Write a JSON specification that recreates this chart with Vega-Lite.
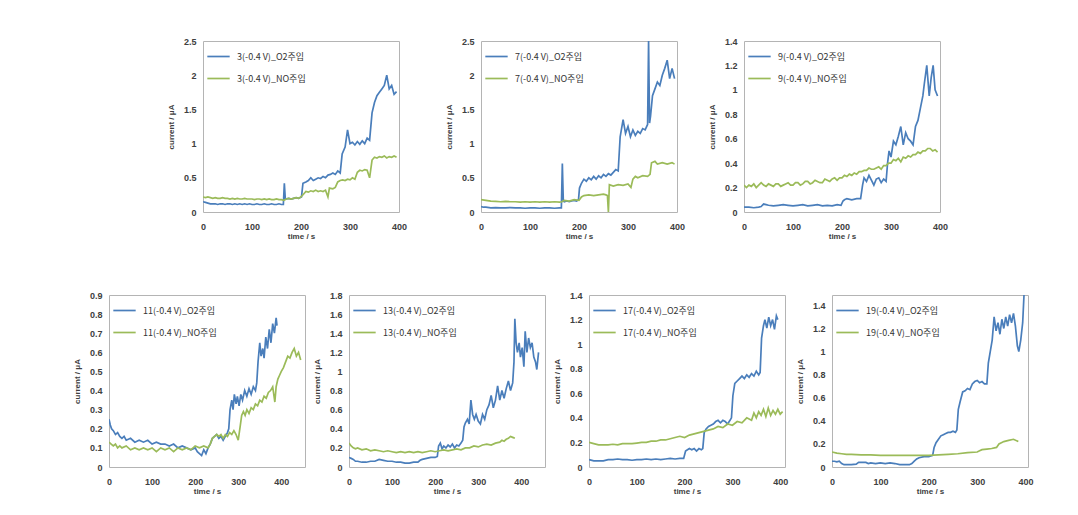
{
"$schema": "https://vega.github.io/schema/vega-lite/v6.json",
"padding": {"left": 72, "top": 36, "right": 5, "bottom": 5},
"background": "white",
"datasets": {
"p3": [
{"t":0,"O2":0.15},{"t":5,"O2":0.14},{"t":10,"O2":0.13},{"t":15,"O2":0.12},{"t":20,"O2":0.12},{"t":25,"O2":0.12},{"t":30,"O2":0.11},{"t":35,"O2":0.12},{"t":40,"O2":0.12},{"t":45,"O2":0.11},{"t":50,"O2":0.12},{"t":55,"O2":0.12},{"t":60,"O2":0.11},{"t":65,"O2":0.12},{"t":70,"O2":0.11},{"t":75,"O2":0.12},{"t":80,"O2":0.11},{"t":85,"O2":0.12},{"t":90,"O2":0.11},{"t":95,"O2":0.12},{"t":100,"O2":0.11},{"t":105,"O2":0.11},{"t":110,"O2":0.12},{"t":115,"O2":0.11},{"t":120,"O2":0.11},{"t":125,"O2":0.12},{"t":130,"O2":0.11},{"t":135,"O2":0.11},{"t":140,"O2":0.12},{"t":145,"O2":0.11},{"t":150,"O2":0.11},{"t":155,"O2":0.12},{"t":160,"O2":0.11},{"t":164,"O2":0.11},{"t":166,"O2":0.42},{"t":168,"O2":0.19},{"t":175,"O2":0.2},{"t":180,"O2":0.19},{"t":185,"O2":0.2},{"t":190,"O2":0.21},{"t":195,"O2":0.2},{"t":201,"O2":0.22},{"t":204,"O2":0.42},{"t":210,"O2":0.44},{"t":215,"O2":0.46},{"t":220,"O2":0.5},{"t":225,"O2":0.46},{"t":230,"O2":0.48},{"t":235,"O2":0.5},{"t":240,"O2":0.49},{"t":245,"O2":0.52},{"t":250,"O2":0.5},{"t":255,"O2":0.54},{"t":260,"O2":0.55},{"t":265,"O2":0.57},{"t":270,"O2":0.55},{"t":275,"O2":0.6},{"t":280,"O2":0.57},{"t":284,"O2":0.85},{"t":290,"O2":0.95},{"t":295,"O2":1.2},{"t":300,"O2":1.0},{"t":305,"O2":1.02},{"t":310,"O2":0.98},{"t":315,"O2":1.03},{"t":320,"O2":0.99},{"t":325,"O2":1.04},{"t":330,"O2":1.0},{"t":335,"O2":1.08},{"t":340,"O2":1.05},{"t":345,"O2":1.45},{"t":350,"O2":1.6},{"t":355,"O2":1.7},{"t":360,"O2":1.75},{"t":365,"O2":1.8},{"t":370,"O2":1.85},{"t":375,"O2":2.0},{"t":380,"O2":1.8},{"t":385,"O2":1.85},{"t":390,"O2":1.72},{"t":395,"O2":1.76},
{"t":0,"NO":0.22},{"t":5,"NO":0.21},{"t":10,"NO":0.22},{"t":15,"NO":0.21},{"t":20,"NO":0.2},{"t":25,"NO":0.21},{"t":30,"NO":0.2},{"t":35,"NO":0.2},{"t":40,"NO":0.21},{"t":45,"NO":0.2},{"t":50,"NO":0.2},{"t":55,"NO":0.19},{"t":60,"NO":0.2},{"t":65,"NO":0.19},{"t":70,"NO":0.2},{"t":75,"NO":0.19},{"t":80,"NO":0.19},{"t":85,"NO":0.2},{"t":90,"NO":0.19},{"t":95,"NO":0.19},{"t":100,"NO":0.19},{"t":105,"NO":0.18},{"t":110,"NO":0.19},{"t":115,"NO":0.19},{"t":120,"NO":0.18},{"t":125,"NO":0.19},{"t":130,"NO":0.18},{"t":135,"NO":0.19},{"t":140,"NO":0.18},{"t":145,"NO":0.18},{"t":150,"NO":0.19},{"t":155,"NO":0.18},{"t":160,"NO":0.18},{"t":165,"NO":0.17},{"t":170,"NO":0.19},{"t":175,"NO":0.2},{"t":180,"NO":0.19},{"t":185,"NO":0.2},{"t":190,"NO":0.21},{"t":195,"NO":0.2},{"t":200,"NO":0.22},{"t":205,"NO":0.26},{"t":210,"NO":0.3},{"t":215,"NO":0.29},{"t":220,"NO":0.31},{"t":225,"NO":0.3},{"t":230,"NO":0.32},{"t":235,"NO":0.3},{"t":240,"NO":0.31},{"t":245,"NO":0.3},{"t":250,"NO":0.32},{"t":255,"NO":0.22},{"t":258,"NO":0.35},{"t":265,"NO":0.34},{"t":270,"NO":0.36},{"t":275,"NO":0.44},{"t":280,"NO":0.46},{"t":285,"NO":0.47},{"t":290,"NO":0.46},{"t":295,"NO":0.48},{"t":300,"NO":0.47},{"t":305,"NO":0.5},{"t":310,"NO":0.48},{"t":315,"NO":0.58},{"t":320,"NO":0.61},{"t":325,"NO":0.6},{"t":330,"NO":0.62},{"t":335,"NO":0.61},{"t":340,"NO":0.5},{"t":345,"NO":0.76},{"t":350,"NO":0.8},{"t":355,"NO":0.79},{"t":360,"NO":0.81},{"t":365,"NO":0.8},{"t":370,"NO":0.82},{"t":375,"NO":0.79},{"t":380,"NO":0.81},{"t":385,"NO":0.8},{"t":390,"NO":0.82},{"t":395,"NO":0.8}
],
"p7": [
{"t":0,"O2":0.08},{"t":5,"O2":0.07},{"t":10,"O2":0.07},{"t":20,"O2":0.06},{"t":30,"O2":0.065},{"t":40,"O2":0.06},{"t":50,"O2":0.06},{"t":60,"O2":0.065},{"t":70,"O2":0.06},{"t":80,"O2":0.06},{"t":90,"O2":0.055},{"t":100,"O2":0.06},{"t":110,"O2":0.06},{"t":120,"O2":0.055},{"t":130,"O2":0.06},{"t":140,"O2":0.06},{"t":150,"O2":0.055},{"t":160,"O2":0.06},{"t":164,"O2":0.06},{"t":166,"O2":0.71},{"t":168,"O2":0.16},{"t":170,"O2":0.15},{"t":175,"O2":0.16},{"t":180,"O2":0.15},{"t":185,"O2":0.16},{"t":190,"O2":0.17},{"t":195,"O2":0.16},{"t":199,"O2":0.18},{"t":201,"O2":0.35},{"t":205,"O2":0.42},{"t":210,"O2":0.48},{"t":215,"O2":0.45},{"t":220,"O2":0.5},{"t":225,"O2":0.47},{"t":230,"O2":0.52},{"t":235,"O2":0.48},{"t":240,"O2":0.53},{"t":245,"O2":0.5},{"t":250,"O2":0.55},{"t":255,"O2":0.52},{"t":260,"O2":0.56},{"t":265,"O2":0.54},{"t":270,"O2":0.58},{"t":275,"O2":0.62},{"t":280,"O2":0.6},{"t":284,"O2":1.1},{"t":290,"O2":1.35},{"t":295,"O2":1.15},{"t":300,"O2":1.25},{"t":305,"O2":1.1},{"t":310,"O2":1.2},{"t":315,"O2":1.12},{"t":320,"O2":1.18},{"t":325,"O2":1.15},{"t":330,"O2":1.22},{"t":335,"O2":1.2},{"t":340,"O2":1.28},{"t":342,"O2":2.5},{"t":344,"O2":1.3},{"t":346,"O2":1.4},{"t":350,"O2":1.7},{"t":355,"O2":1.8},{"t":360,"O2":1.9},{"t":365,"O2":1.85},{"t":370,"O2":2.0},{"t":375,"O2":2.1},{"t":380,"O2":2.22},{"t":385,"O2":1.95},{"t":390,"O2":2.1},{"t":395,"O2":1.95},
{"t":0,"NO":0.18},{"t":10,"NO":0.17},{"t":20,"NO":0.16},{"t":30,"NO":0.155},{"t":40,"NO":0.15},{"t":50,"NO":0.155},{"t":60,"NO":0.15},{"t":70,"NO":0.15},{"t":80,"NO":0.145},{"t":90,"NO":0.15},{"t":100,"NO":0.145},{"t":110,"NO":0.15},{"t":120,"NO":0.145},{"t":130,"NO":0.15},{"t":140,"NO":0.145},{"t":150,"NO":0.15},{"t":160,"NO":0.145},{"t":165,"NO":0.15},{"t":170,"NO":0.17},{"t":180,"NO":0.16},{"t":190,"NO":0.18},{"t":200,"NO":0.17},{"t":205,"NO":0.22},{"t":210,"NO":0.24},{"t":220,"NO":0.25},{"t":230,"NO":0.24},{"t":240,"NO":0.25},{"t":250,"NO":0.26},{"t":255,"NO":0.25},{"t":258,"NO":0.24},{"t":260,"NO":0.0},{"t":262,"NO":0.4},{"t":270,"NO":0.38},{"t":280,"NO":0.4},{"t":290,"NO":0.39},{"t":300,"NO":0.41},{"t":306,"NO":0.36},{"t":310,"NO":0.48},{"t":315,"NO":0.52},{"t":320,"NO":0.5},{"t":330,"NO":0.53},{"t":340,"NO":0.52},{"t":345,"NO":0.55},{"t":348,"NO":0.72},{"t":355,"NO":0.74},{"t":360,"NO":0.7},{"t":370,"NO":0.72},{"t":380,"NO":0.7},{"t":390,"NO":0.72},{"t":395,"NO":0.7}
],
"p9": [
{"t":0,"O2":0.04},{"t":10,"O2":0.04},{"t":20,"O2":0.035},{"t":30,"O2":0.04},{"t":35,"O2":0.045},{"t":40,"O2":0.065},{"t":45,"O2":0.06},{"t":50,"O2":0.055},{"t":60,"O2":0.05},{"t":70,"O2":0.055},{"t":80,"O2":0.06},{"t":90,"O2":0.055},{"t":100,"O2":0.05},{"t":110,"O2":0.055},{"t":120,"O2":0.06},{"t":130,"O2":0.05},{"t":140,"O2":0.055},{"t":150,"O2":0.06},{"t":160,"O2":0.05},{"t":170,"O2":0.055},{"t":180,"O2":0.05},{"t":190,"O2":0.06},{"t":198,"O2":0.055},{"t":202,"O2":0.09},{"t":205,"O2":0.1},{"t":210,"O2":0.11},{"t":220,"O2":0.1},{"t":230,"O2":0.11},{"t":238,"O2":0.11},{"t":242,"O2":0.22},{"t":245,"O2":0.28},{"t":250,"O2":0.25},{"t":255,"O2":0.3},{"t":260,"O2":0.26},{"t":265,"O2":0.22},{"t":270,"O2":0.27},{"t":275,"O2":0.28},{"t":280,"O2":0.24},{"t":285,"O2":0.27},{"t":290,"O2":0.25},{"t":293,"O2":0.4},{"t":296,"O2":0.5},{"t":300,"O2":0.45},{"t":305,"O2":0.58},{"t":310,"O2":0.55},{"t":315,"O2":0.62},{"t":320,"O2":0.7},{"t":325,"O2":0.55},{"t":330,"O2":0.65},{"t":335,"O2":0.6},{"t":340,"O2":0.58},{"t":345,"O2":0.55},{"t":350,"O2":0.7},{"t":355,"O2":0.75},{"t":360,"O2":0.85},{"t":365,"O2":0.95},{"t":368,"O2":1.05},{"t":373,"O2":1.2},{"t":378,"O2":0.95},{"t":382,"O2":1.1},{"t":386,"O2":1.2},{"t":390,"O2":1.0},{"t":395,"O2":0.95},
{"t":0,"NO":0.22},{"t":5,"NO":0.2},{"t":10,"NO":0.22},{"t":15,"NO":0.21},{"t":20,"NO":0.23},{"t":25,"NO":0.2},{"t":30,"NO":0.22},{"t":35,"NO":0.24},{"t":40,"NO":0.22},{"t":45,"NO":0.21},{"t":50,"NO":0.23},{"t":55,"NO":0.22},{"t":60,"NO":0.21},{"t":65,"NO":0.23},{"t":70,"NO":0.23},{"t":75,"NO":0.21},{"t":80,"NO":0.22},{"t":85,"NO":0.23},{"t":90,"NO":0.24},{"t":95,"NO":0.22},{"t":100,"NO":0.22},{"t":105,"NO":0.24},{"t":110,"NO":0.24},{"t":115,"NO":0.22},{"t":120,"NO":0.23},{"t":125,"NO":0.25},{"t":130,"NO":0.25},{"t":135,"NO":0.23},{"t":140,"NO":0.24},{"t":145,"NO":0.26},{"t":150,"NO":0.25},{"t":155,"NO":0.24},{"t":160,"NO":0.24},{"t":165,"NO":0.27},{"t":170,"NO":0.26},{"t":175,"NO":0.25},{"t":180,"NO":0.27},{"t":185,"NO":0.28},{"t":190,"NO":0.26},{"t":195,"NO":0.28},{"t":200,"NO":0.28},{"t":205,"NO":0.3},{"t":210,"NO":0.29},{"t":215,"NO":0.31},{"t":220,"NO":0.3},{"t":225,"NO":0.32},{"t":230,"NO":0.31},{"t":235,"NO":0.33},{"t":240,"NO":0.33},{"t":245,"NO":0.34},{"t":250,"NO":0.34},{"t":255,"NO":0.36},{"t":260,"NO":0.35},{"t":265,"NO":0.35},{"t":270,"NO":0.36},{"t":275,"NO":0.37},{"t":280,"NO":0.35},{"t":285,"NO":0.38},{"t":290,"NO":0.38},{"t":295,"NO":0.4},{"t":300,"NO":0.4},{"t":305,"NO":0.43},{"t":310,"NO":0.42},{"t":315,"NO":0.44},{"t":320,"NO":0.41},{"t":325,"NO":0.45},{"t":330,"NO":0.44},{"t":335,"NO":0.46},{"t":340,"NO":0.45},{"t":345,"NO":0.47},{"t":350,"NO":0.47},{"t":355,"NO":0.49},{"t":360,"NO":0.48},{"t":365,"NO":0.5},{"t":370,"NO":0.5},{"t":375,"NO":0.52},{"t":380,"NO":0.52},{"t":385,"NO":0.5},{"t":390,"NO":0.51},{"t":395,"NO":0.49}
],
"p11": [
{"t":0,"O2":0.25},{"t":3,"O2":0.22},{"t":6,"O2":0.2},{"t":10,"O2":0.19},{"t":15,"O2":0.17},{"t":20,"O2":0.18},{"t":25,"O2":0.16},{"t":30,"O2":0.15},{"t":35,"O2":0.16},{"t":40,"O2":0.14},{"t":50,"O2":0.15},{"t":60,"O2":0.13},{"t":70,"O2":0.14},{"t":80,"O2":0.13},{"t":90,"O2":0.14},{"t":100,"O2":0.12},{"t":110,"O2":0.13},{"t":120,"O2":0.12},{"t":130,"O2":0.12},{"t":140,"O2":0.11},{"t":150,"O2":0.12},{"t":160,"O2":0.1},{"t":170,"O2":0.11},{"t":180,"O2":0.1},{"t":190,"O2":0.09},{"t":200,"O2":0.1},{"t":205,"O2":0.08},{"t":210,"O2":0.07},{"t":215,"O2":0.06},{"t":220,"O2":0.09},{"t":225,"O2":0.07},{"t":230,"O2":0.1},{"t":235,"O2":0.12},{"t":240,"O2":0.15},{"t":245,"O2":0.16},{"t":250,"O2":0.17},{"t":255,"O2":0.15},{"t":260,"O2":0.16},{"t":265,"O2":0.14},{"t":270,"O2":0.16},{"t":275,"O2":0.18},{"t":278,"O2":0.2},{"t":281,"O2":0.3},{"t":285,"O2":0.35},{"t":288,"O2":0.3},{"t":291,"O2":0.38},{"t":295,"O2":0.33},{"t":298,"O2":0.37},{"t":302,"O2":0.32},{"t":306,"O2":0.38},{"t":310,"O2":0.35},{"t":315,"O2":0.4},{"t":320,"O2":0.37},{"t":325,"O2":0.41},{"t":330,"O2":0.38},{"t":335,"O2":0.42},{"t":340,"O2":0.4},{"t":343,"O2":0.44},{"t":346,"O2":0.55},{"t":350,"O2":0.65},{"t":353,"O2":0.58},{"t":357,"O2":0.62},{"t":360,"O2":0.57},{"t":364,"O2":0.68},{"t":368,"O2":0.62},{"t":372,"O2":0.72},{"t":376,"O2":0.65},{"t":380,"O2":0.75},{"t":384,"O2":0.7},{"t":388,"O2":0.78},{"t":390,"O2":0.74},
{"t":0,"NO":0.13},{"t":5,"NO":0.12},{"t":10,"NO":0.11},{"t":15,"NO":0.12},{"t":20,"NO":0.1},{"t":25,"NO":0.11},{"t":30,"NO":0.1},{"t":40,"NO":0.11},{"t":50,"NO":0.09},{"t":60,"NO":0.1},{"t":70,"NO":0.09},{"t":80,"NO":0.1},{"t":90,"NO":0.09},{"t":100,"NO":0.1},{"t":110,"NO":0.08},{"t":120,"NO":0.1},{"t":130,"NO":0.09},{"t":140,"NO":0.1},{"t":150,"NO":0.08},{"t":160,"NO":0.1},{"t":170,"NO":0.09},{"t":180,"NO":0.1},{"t":190,"NO":0.09},{"t":200,"NO":0.11},{"t":210,"NO":0.1},{"t":220,"NO":0.11},{"t":230,"NO":0.1},{"t":235,"NO":0.12},{"t":240,"NO":0.15},{"t":245,"NO":0.16},{"t":250,"NO":0.17},{"t":255,"NO":0.16},{"t":260,"NO":0.17},{"t":265,"NO":0.15},{"t":270,"NO":0.17},{"t":275,"NO":0.16},{"t":280,"NO":0.18},{"t":285,"NO":0.17},{"t":290,"NO":0.19},{"t":295,"NO":0.17},{"t":300,"NO":0.14},{"t":305,"NO":0.22},{"t":308,"NO":0.27},{"t":312,"NO":0.29},{"t":316,"NO":0.27},{"t":320,"NO":0.3},{"t":325,"NO":0.28},{"t":330,"NO":0.31},{"t":335,"NO":0.3},{"t":340,"NO":0.33},{"t":345,"NO":0.32},{"t":350,"NO":0.35},{"t":355,"NO":0.34},{"t":360,"NO":0.37},{"t":365,"NO":0.36},{"t":370,"NO":0.39},{"t":375,"NO":0.4},{"t":380,"NO":0.42},{"t":385,"NO":0.34},{"t":388,"NO":0.42},{"t":392,"NO":0.46},{"t":396,"NO":0.48},{"t":400,"NO":0.5},{"t":405,"NO":0.52},{"t":410,"NO":0.55},{"t":415,"NO":0.58},{"t":420,"NO":0.57},{"t":425,"NO":0.6},{"t":430,"NO":0.62},{"t":435,"NO":0.58},{"t":440,"NO":0.6},{"t":445,"NO":0.56}
],
"p13": [
{"t":0,"O2":0.1},{"t":5,"O2":0.09},{"t":10,"O2":0.08},{"t":15,"O2":0.06},{"t":20,"O2":0.06},{"t":30,"O2":0.05},{"t":40,"O2":0.05},{"t":50,"O2":0.06},{"t":60,"O2":0.06},{"t":70,"O2":0.08},{"t":80,"O2":0.07},{"t":90,"O2":0.06},{"t":100,"O2":0.06},{"t":110,"O2":0.05},{"t":120,"O2":0.05},{"t":130,"O2":0.04},{"t":140,"O2":0.04},{"t":150,"O2":0.05},{"t":160,"O2":0.05},{"t":165,"O2":0.07},{"t":170,"O2":0.08},{"t":180,"O2":0.09},{"t":190,"O2":0.1},{"t":200,"O2":0.1},{"t":205,"O2":0.11},{"t":208,"O2":0.22},{"t":212,"O2":0.25},{"t":216,"O2":0.19},{"t":220,"O2":0.22},{"t":225,"O2":0.2},{"t":230,"O2":0.23},{"t":235,"O2":0.21},{"t":240,"O2":0.24},{"t":245,"O2":0.2},{"t":250,"O2":0.23},{"t":255,"O2":0.22},{"t":260,"O2":0.25},{"t":264,"O2":0.28},{"t":267,"O2":0.42},{"t":270,"O2":0.46},{"t":275,"O2":0.5},{"t":279,"O2":0.45},{"t":283,"O2":0.7},{"t":287,"O2":0.55},{"t":291,"O2":0.5},{"t":295,"O2":0.55},{"t":300,"O2":0.48},{"t":305,"O2":0.45},{"t":310,"O2":0.55},{"t":315,"O2":0.5},{"t":320,"O2":0.6},{"t":325,"O2":0.65},{"t":330,"O2":0.75},{"t":335,"O2":0.62},{"t":340,"O2":0.7},{"t":345,"O2":0.85},{"t":350,"O2":0.7},{"t":355,"O2":0.8},{"t":360,"O2":0.72},{"t":365,"O2":0.82},{"t":370,"O2":0.9},{"t":375,"O2":0.8},{"t":380,"O2":0.88},{"t":383,"O2":1.1},{"t":385,"O2":1.55},{"t":388,"O2":1.3},{"t":391,"O2":1.2},{"t":395,"O2":1.3},{"t":398,"O2":1.15},{"t":402,"O2":1.25},{"t":406,"O2":1.05},{"t":409,"O2":1.42},{"t":413,"O2":1.2},{"t":417,"O2":1.35},{"t":421,"O2":1.25},{"t":425,"O2":1.3},{"t":429,"O2":1.15},{"t":433,"O2":1.1},{"t":436,"O2":1.02},{"t":440,"O2":1.2},
{"t":0,"NO":0.25},{"t":5,"NO":0.22},{"t":10,"NO":0.2},{"t":15,"NO":0.19},{"t":20,"NO":0.2},{"t":30,"NO":0.18},{"t":40,"NO":0.19},{"t":50,"NO":0.17},{"t":60,"NO":0.18},{"t":70,"NO":0.17},{"t":80,"NO":0.16},{"t":90,"NO":0.17},{"t":100,"NO":0.16},{"t":110,"NO":0.15},{"t":120,"NO":0.16},{"t":130,"NO":0.15},{"t":140,"NO":0.16},{"t":150,"NO":0.15},{"t":160,"NO":0.16},{"t":170,"NO":0.15},{"t":180,"NO":0.16},{"t":190,"NO":0.17},{"t":200,"NO":0.16},{"t":210,"NO":0.17},{"t":220,"NO":0.18},{"t":230,"NO":0.17},{"t":240,"NO":0.18},{"t":250,"NO":0.19},{"t":260,"NO":0.18},{"t":270,"NO":0.2},{"t":280,"NO":0.2},{"t":290,"NO":0.22},{"t":300,"NO":0.21},{"t":310,"NO":0.23},{"t":320,"NO":0.24},{"t":330,"NO":0.23},{"t":340,"NO":0.25},{"t":350,"NO":0.26},{"t":355,"NO":0.28},{"t":360,"NO":0.27},{"t":365,"NO":0.29},{"t":370,"NO":0.3},{"t":375,"NO":0.32},{"t":380,"NO":0.31},{"t":385,"NO":0.3}
],
"p17": [
{"t":0,"O2":0.06},{"t":10,"O2":0.05},{"t":20,"O2":0.05},{"t":30,"O2":0.05},{"t":40,"O2":0.06},{"t":50,"O2":0.06},{"t":60,"O2":0.065},{"t":70,"O2":0.06},{"t":80,"O2":0.06},{"t":90,"O2":0.055},{"t":100,"O2":0.06},{"t":110,"O2":0.06},{"t":120,"O2":0.065},{"t":130,"O2":0.06},{"t":140,"O2":0.065},{"t":150,"O2":0.06},{"t":160,"O2":0.065},{"t":170,"O2":0.07},{"t":180,"O2":0.065},{"t":190,"O2":0.07},{"t":198,"O2":0.07},{"t":202,"O2":0.13},{"t":206,"O2":0.14},{"t":210,"O2":0.15},{"t":215,"O2":0.14},{"t":220,"O2":0.15},{"t":225,"O2":0.13},{"t":230,"O2":0.15},{"t":235,"O2":0.14},{"t":238,"O2":0.15},{"t":241,"O2":0.28},{"t":245,"O2":0.31},{"t":250,"O2":0.33},{"t":255,"O2":0.34},{"t":260,"O2":0.35},{"t":265,"O2":0.37},{"t":270,"O2":0.38},{"t":275,"O2":0.36},{"t":280,"O2":0.38},{"t":285,"O2":0.37},{"t":290,"O2":0.35},{"t":295,"O2":0.38},{"t":298,"O2":0.4},{"t":301,"O2":0.58},{"t":305,"O2":0.68},{"t":310,"O2":0.7},{"t":315,"O2":0.72},{"t":320,"O2":0.74},{"t":325,"O2":0.72},{"t":330,"O2":0.75},{"t":335,"O2":0.73},{"t":340,"O2":0.76},{"t":345,"O2":0.74},{"t":350,"O2":0.78},{"t":355,"O2":0.75},{"t":358,"O2":0.77},{"t":361,"O2":1.05},{"t":365,"O2":1.15},{"t":368,"O2":1.2},{"t":372,"O2":1.13},{"t":376,"O2":1.22},{"t":380,"O2":1.15},{"t":384,"O2":1.2},{"t":388,"O2":1.12},{"t":392,"O2":1.23},{"t":395,"O2":1.2},
{"t":0,"NO":0.2},{"t":10,"NO":0.19},{"t":20,"NO":0.18},{"t":30,"NO":0.18},{"t":40,"NO":0.18},{"t":50,"NO":0.185},{"t":60,"NO":0.18},{"t":70,"NO":0.19},{"t":80,"NO":0.19},{"t":90,"NO":0.19},{"t":100,"NO":0.195},{"t":110,"NO":0.2},{"t":120,"NO":0.2},{"t":130,"NO":0.21},{"t":140,"NO":0.21},{"t":150,"NO":0.22},{"t":160,"NO":0.22},{"t":170,"NO":0.23},{"t":180,"NO":0.24},{"t":190,"NO":0.25},{"t":200,"NO":0.24},{"t":210,"NO":0.26},{"t":220,"NO":0.27},{"t":230,"NO":0.28},{"t":240,"NO":0.29},{"t":250,"NO":0.3},{"t":260,"NO":0.31},{"t":270,"NO":0.33},{"t":280,"NO":0.32},{"t":290,"NO":0.35},{"t":300,"NO":0.34},{"t":310,"NO":0.37},{"t":320,"NO":0.36},{"t":330,"NO":0.4},{"t":340,"NO":0.38},{"t":345,"NO":0.44},{"t":350,"NO":0.4},{"t":355,"NO":0.45},{"t":360,"NO":0.42},{"t":365,"NO":0.47},{"t":370,"NO":0.41},{"t":375,"NO":0.48},{"t":380,"NO":0.42},{"t":385,"NO":0.46},{"t":390,"NO":0.43},{"t":395,"NO":0.47},{"t":400,"NO":0.43},{"t":405,"NO":0.45}
],
"p19": [
{"t":0,"O2":0.05},{"t":5,"O2":0.05},{"t":10,"O2":0.045},{"t":15,"O2":0.05},{"t":20,"O2":0.03},{"t":25,"O2":0.02},{"t":30,"O2":0.02},{"t":40,"O2":0.02},{"t":50,"O2":0.025},{"t":55,"O2":0.04},{"t":60,"O2":0.04},{"t":70,"O2":0.04},{"t":75,"O2":0.03},{"t":80,"O2":0.035},{"t":90,"O2":0.03},{"t":100,"O2":0.035},{"t":110,"O2":0.03},{"t":120,"O2":0.035},{"t":130,"O2":0.03},{"t":140,"O2":0.02},{"t":150,"O2":0.02},{"t":160,"O2":0.02},{"t":165,"O2":0.03},{"t":170,"O2":0.05},{"t":175,"O2":0.07},{"t":180,"O2":0.08},{"t":190,"O2":0.09},{"t":200,"O2":0.09},{"t":208,"O2":0.1},{"t":211,"O2":0.17},{"t":215,"O2":0.21},{"t":220,"O2":0.24},{"t":225,"O2":0.27},{"t":230,"O2":0.28},{"t":235,"O2":0.29},{"t":240,"O2":0.3},{"t":245,"O2":0.3},{"t":250,"O2":0.31},{"t":255,"O2":0.3},{"t":258,"O2":0.32},{"t":261,"O2":0.5},{"t":265,"O2":0.57},{"t":270,"O2":0.65},{"t":275,"O2":0.66},{"t":280,"O2":0.68},{"t":285,"O2":0.67},{"t":290,"O2":0.72},{"t":295,"O2":0.74},{"t":300,"O2":0.75},{"t":305,"O2":0.73},{"t":310,"O2":0.74},{"t":315,"O2":0.72},{"t":320,"O2":0.72},{"t":323,"O2":0.9},{"t":327,"O2":1.0},{"t":331,"O2":1.1},{"t":335,"O2":1.3},{"t":339,"O2":1.18},{"t":343,"O2":1.25},{"t":347,"O2":1.15},{"t":351,"O2":1.28},{"t":355,"O2":1.2},{"t":359,"O2":1.3},{"t":363,"O2":1.22},{"t":367,"O2":1.32},{"t":371,"O2":1.25},{"t":375,"O2":1.33},{"t":379,"O2":1.22},{"t":383,"O2":1.05},{"t":386,"O2":1.0},{"t":390,"O2":1.1},{"t":394,"O2":1.25},{"t":398,"O2":1.6},
{"t":0,"NO":0.13},{"t":10,"NO":0.12},{"t":20,"NO":0.115},{"t":30,"NO":0.11},{"t":40,"NO":0.11},{"t":60,"NO":0.105},{"t":80,"NO":0.105},{"t":100,"NO":0.1},{"t":120,"NO":0.1},{"t":140,"NO":0.1},{"t":160,"NO":0.1},{"t":180,"NO":0.1},{"t":200,"NO":0.1},{"t":220,"NO":0.105},{"t":240,"NO":0.11},{"t":260,"NO":0.115},{"t":280,"NO":0.125},{"t":300,"NO":0.13},{"t":305,"NO":0.14},{"t":310,"NO":0.15},{"t":320,"NO":0.155},{"t":330,"NO":0.16},{"t":340,"NO":0.17},{"t":345,"NO":0.2},{"t":350,"NO":0.21},{"t":355,"NO":0.22},{"t":365,"NO":0.23},{"t":375,"NO":0.24},{"t":385,"NO":0.22}
],
"empty": []
},
"vconcat": [
{
"hconcat": [
{"width": 57, "height": 171, "data": {"name": "empty"}, "mark": "point", "view": {"stroke": null}},
{
"hconcat": [
{
"hconcat": [
{"width":196,"height":171,"data":{"name":"p3"},"transform":[{"fold":["O2","NO"],"as":["s","v"]},{"filter":"isValid(datum.v)"}],"mark":{"type":"line","clip":true},
"encoding":{"x":{"field":"t","type":"quantitative","scale":{"domain":[0,400],"nice":false},"axis":{"values":[0,100,200,300,400],"title":"time / s"}},
"y":{"field":"v","type":"quantitative","scale":{"domain":[0,2.5],"nice":false},"axis":{"values":[0,0.5,1,1.5,2,2.5],"format":"~g","title":"current / μA"}},
"color":{"field":"s","type":"nominal","scale":{"domain":["O2","NO"],"range":["#4a7ebb","#9bbb59"]},"legend":{"title":null,"labelExpr":"'3(-0.4 V)_' + datum.label + '주입'"}}}},
{"width":196,"height":171,"data":{"name":"p7"},"transform":[{"fold":["O2","NO"],"as":["s","v"]},{"filter":"isValid(datum.v)"}],"mark":{"type":"line","clip":true},
"encoding":{"x":{"field":"t","type":"quantitative","scale":{"domain":[0,400],"nice":false},"axis":{"values":[0,100,200,300,400],"title":"time / s"}},
"y":{"field":"v","type":"quantitative","scale":{"domain":[0,2.5],"nice":false},"axis":{"values":[0,0.5,1,1.5,2,2.5],"format":"~g","title":"current / μA"}},
"color":{"field":"s","type":"nominal","scale":{"domain":["O2","NO"],"range":["#4a7ebb","#9bbb59"]},"legend":{"title":null,"labelExpr":"'7(-0.4 V)_' + datum.label + '주입'"}}}}
],
"spacing": 36,
"resolve": {"scale": {"color": "independent"}, "legend": {"color": "independent"}}
},
{"width":196,"height":171,"data":{"name":"p9"},"transform":[{"fold":["O2","NO"],"as":["s","v"]},{"filter":"isValid(datum.v)"}],"mark":{"type":"line","clip":true},
"encoding":{"x":{"field":"t","type":"quantitative","scale":{"domain":[0,400],"nice":false},"axis":{"values":[0,100,200,300,400],"title":"time / s"}},
"y":{"field":"v","type":"quantitative","scale":{"domain":[0,1.4],"nice":false},"axis":{"values":[0,0.2,0.4,0.6,0.8,1,1.2,1.4],"format":"~g","title":"current / μA"}},
"color":{"field":"s","type":"nominal","scale":{"domain":["O2","NO"],"range":["#4a7ebb","#9bbb59"]},"legend":{"title":null,"labelExpr":"'9(-0.4 V)_' + datum.label + '주입'"}}}}
],
"spacing": 21,
"resolve": {"scale": {"color": "independent"}, "legend": {"color": "independent"}}
}
],
"spacing": 0,
"resolve": {"scale": {"color": "independent"}, "legend": {"color": "independent"}}
},
{
"hconcat": [
{"width":196,"height":172,"data":{"name":"p11"},"transform":[{"fold":["O2","NO"],"as":["s","v"]},{"filter":"isValid(datum.v)"}],"mark":{"type":"line","clip":true},
"encoding":{"x":{"field":"t","type":"quantitative","scale":{"domain":[0,455],"nice":false},"axis":{"values":[0,100,200,300,400],"title":"time / s"}},
"y":{"field":"v","type":"quantitative","scale":{"domain":[0,0.9],"nice":false},"axis":{"values":[0,0.1,0.2,0.3,0.4,0.5,0.6,0.7,0.8,0.9],"format":"~g","title":"current / μA"}},
"color":{"field":"s","type":"nominal","scale":{"domain":["O2","NO"],"range":["#4a7ebb","#9bbb59"]},"legend":{"title":null,"labelExpr":"'11(-0.4 V)_' + datum.label + '주입'"}}}},
{"width":196,"height":172,"data":{"name":"p13"},"transform":[{"fold":["O2","NO"],"as":["s","v"]},{"filter":"isValid(datum.v)"}],"mark":{"type":"line","clip":true},
"encoding":{"x":{"field":"t","type":"quantitative","scale":{"domain":[0,455],"nice":false},"axis":{"values":[0,100,200,300,400],"title":"time / s"}},
"y":{"field":"v","type":"quantitative","scale":{"domain":[0,1.8],"nice":false},"axis":{"values":[0,0.2,0.4,0.6,0.8,1,1.2,1.4,1.6,1.8],"format":"~g","title":"current / μA"}},
"color":{"field":"s","type":"nominal","scale":{"domain":["O2","NO"],"range":["#4a7ebb","#9bbb59"]},"legend":{"title":null,"labelExpr":"'13(-0.4 V)_' + datum.label + '주입'"}}}},
{"width":196,"height":172,"data":{"name":"p17"},"transform":[{"fold":["O2","NO"],"as":["s","v"]},{"filter":"isValid(datum.v)"}],"mark":{"type":"line","clip":true},
"encoding":{"x":{"field":"t","type":"quantitative","scale":{"domain":[0,410],"nice":false},"axis":{"values":[0,100,200,300,400],"title":"time / s"}},
"y":{"field":"v","type":"quantitative","scale":{"domain":[0,1.4],"nice":false},"axis":{"values":[0,0.2,0.4,0.6,0.8,1,1.2,1.4],"format":"~g","title":"current / μA"}},
"color":{"field":"s","type":"nominal","scale":{"domain":["O2","NO"],"range":["#4a7ebb","#9bbb59"]},"legend":{"title":null,"labelExpr":"'17(-0.4 V)_' + datum.label + '주입'"}}}},
{"width":196,"height":172,"data":{"name":"p19"},"transform":[{"fold":["O2","NO"],"as":["s","v"]},{"filter":"isValid(datum.v)"}],"mark":{"type":"line","clip":true},
"encoding":{"x":{"field":"t","type":"quantitative","scale":{"domain":[0,405],"nice":false},"axis":{"values":[0,100,200,300,400],"title":"time / s"}},
"y":{"field":"v","type":"quantitative","scale":{"domain":[0,1.49],"nice":false},"axis":{"values":[0,0.2,0.4,0.6,0.8,1,1.2,1.4],"format":"~g","title":"current / μA"}},
"color":{"field":"s","type":"nominal","scale":{"domain":["O2","NO"],"range":["#4a7ebb","#9bbb59"]},"legend":{"title":null,"labelExpr":"'19(-0.4 V)_' + datum.label + '주입'"}}}}
],
"spacing": 6,
"resolve": {"scale": {"color": "independent"}, "legend": {"color": "independent"}}
}
],
"spacing": 49,
"resolve": {"scale": {"color": "independent"}, "legend": {"color": "independent"}},
"config": {
"view": {"stroke": "#b4b4b4", "strokeWidth": 1},
"line": {"strokeWidth": 1.7},
"axis": {"grid": false, "ticks": false, "domain": false, "labelFlush": false, "labelFont": "Liberation Sans", "labelFontSize": 9, "labelFontWeight": "bold", "labelColor": "#404040", "titleFont": "Liberation Sans", "titleFontSize": 8, "titleFontWeight": "bold", "titleColor": "#404040"},
"axisX": {"labelPadding": 10, "titlePadding": 1},
"axisY": {"labelPadding": 7, "titlePadding": 8},
"legend": {"orient": "top-left", "offset": 3, "padding": 0, "rowPadding": 4, "symbolType": "stroke", "symbolSize": 500, "symbolStrokeWidth": 2, "labelFont": "Noto Sans CJK KR", "labelFontSize": 9, "labelColor": "#333333", "labelOffset": 6}
}
}
